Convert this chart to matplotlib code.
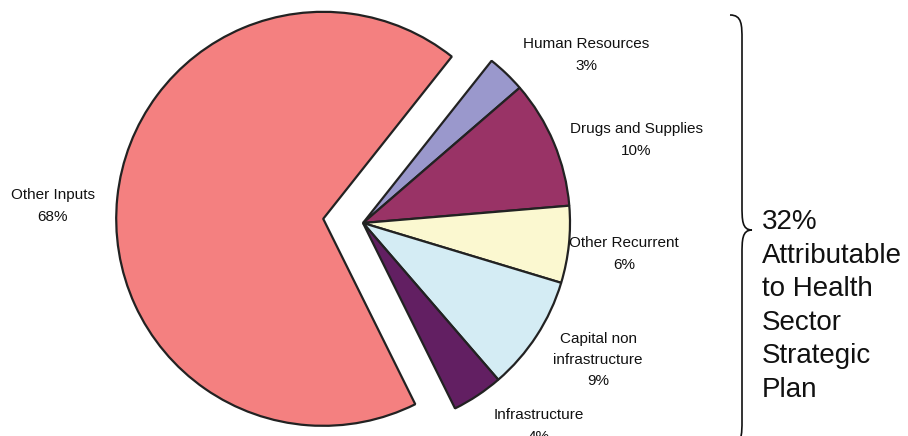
import matplotlib
matplotlib.use("Agg")
import matplotlib.pyplot as plt
from matplotlib.path import Path
from matplotlib.patches import PathPatch

# Budget shares (percent), clockwise from the top of the split-out group
categories = ["Human Resources", "Drugs and Supplies", "Other Recurrent",
              "Capital non\ninfrastructure", "Infrastructure", "Other Inputs"]
shares = [3, 10, 6, 9, 4, 68]
colors = ["#9a98cc", "#993366", "#fbf8d0", "#d4ecf4", "#621f62", "#f48080"]
summary_text = "32%\nAttributable\nto Health\nSector\nStrategic\nPlan"

W, H = 908, 436
fig = plt.figure(figsize=(W / 100, H / 100), dpi=100)
ax = fig.add_axes([0, 0, 1, 1])

center = (363, H - 223)
radius = 207
# offset (in axis units) that pulls "Other Inputs" away from the rest
explode = [0, 0, 0, 0, 0, 40]

wedges, _ = ax.pie(
    shares, colors=colors, explode=explode, startangle=51.6,
    counterclock=False, radius=radius, center=center,
    wedgeprops=dict(edgecolor="#222222", linewidth=1.6, joinstyle="bevel"),
)

ax.set_xlim(0, W)
ax.set_ylim(0, H)
ax.set_aspect("equal")
ax.axis("off")

# slice labels: name plus percentage
label_pos = [(586, 55), (636, 140), (624, 254), (598, 360), (539, 426), (53, 206)]
for name, val, (x, y) in zip(categories, shares, label_pos):
    ax.text(x, H - y, f"{name}\n{val}%", ha="center", va="center",
            fontsize=11, family="Liberation Sans", color="#111111",
            linespacing=1.68)

# curly brace grouping the health-plan slices
bx, tip_x, top, mid, bot, hook = 742, 752, 15, 230, 445, 730
verts = [
    (hook, top), (bx, top), (bx, top + 10), (bx, top + 25),
    (bx, mid - 25),
    (bx, mid - 10), (bx, mid), (tip_x, mid),
    (bx, mid), (bx, mid + 10), (bx, mid + 25),
    (bx, bot - 25),
    (bx, bot - 10), (bx, bot), (hook, bot),
]
codes = [Path.MOVETO, Path.CURVE4, Path.CURVE4, Path.CURVE4,
         Path.LINETO,
         Path.CURVE4, Path.CURVE4, Path.CURVE4,
         Path.CURVE4, Path.CURVE4, Path.CURVE4,
         Path.LINETO,
         Path.CURVE4, Path.CURVE4, Path.CURVE4]
verts = [(x, H - y) for x, y in verts]
ax.add_patch(PathPatch(Path(verts, codes), facecolor="none",
                       edgecolor="#111111", linewidth=1.2, clip_on=False))

ax.text(762, H - 306, summary_text, ha="left", va="center", fontsize=20,
        family="Liberation Sans", color="#111111", linespacing=1.38)

fig.savefig("out.png", dpi=100)
